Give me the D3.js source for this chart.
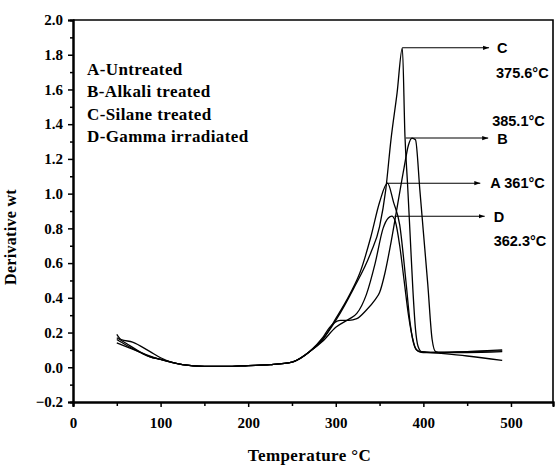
<!DOCTYPE html>
<html>
<head>
<meta charset="utf-8">
<script src="https://cdn.jsdelivr.net/npm/d3@7/dist/d3.min.js"></script>
<style>
  body { margin: 0; background: #fff; }
</style>
</head>
<body>
<svg id="chart"></svg>
<script>
// legend labels
const legendLabels = ['A-Untreated', 'B-Alkali treated', 'C-Silane treated', 'D-Gamma irradiated']

// curve data, temperature (C) and derivative wt
const tempA = [50, 60, 75, 88, 100, 125, 150, 175, 200, 225, 250, 270, 285, 300, 316, 328, 340, 350, 359, 366, 373, 380, 385, 390, 395, 400, 450, 490]
const valA  = [0.16, 0.13, 0.09, 0.06, 0.045, 0.015, 0.005, 0.005, 0.01, 0.015, 0.03, 0.09, 0.16, 0.28, 0.42, 0.55, 0.75, 0.95, 1.06, 0.95, 0.82, 0.5, 0.25, 0.12, 0.09, 0.085, 0.085, 0.09]

const tempB = [50, 55, 68, 88, 100, 125, 150, 175, 200, 225, 250, 270, 285, 293, 305, 315, 324, 335, 345, 350, 356, 362, 370, 378, 383, 387, 391, 396, 400, 405, 410, 414, 420, 450, 490]
const valB  = [0.19, 0.16, 0.145, 0.09, 0.055, 0.015, 0.005, 0.005, 0.01, 0.015, 0.03, 0.09, 0.17, 0.23, 0.27, 0.27, 0.28, 0.33, 0.39, 0.43, 0.54, 0.69, 0.92, 1.15, 1.28, 1.32, 1.31, 1.02, 0.78, 0.48, 0.16, 0.09, 0.085, 0.09, 0.1]

const tempC = [50, 60, 75, 88, 100, 125, 150, 175, 200, 225, 250, 270, 285, 300, 320, 340, 350, 357, 363, 370, 376, 379, 382, 385, 388, 391, 394, 398, 420, 450, 490]
const valC  = [0.14, 0.12, 0.09, 0.06, 0.045, 0.015, 0.005, 0.005, 0.01, 0.015, 0.03, 0.09, 0.16, 0.27, 0.45, 0.66, 0.81, 1.02, 1.31, 1.58, 1.84, 1.33, 1.05, 0.75, 0.45, 0.22, 0.12, 0.09, 0.08, 0.065, 0.04]

const tempD = [50, 60, 80, 100, 125, 150, 175, 200, 225, 250, 270, 285, 300, 316, 324, 335, 345, 354, 360, 364, 368, 373, 378, 383, 388, 392, 396, 420, 450, 490]
const valD  = [0.17, 0.14, 0.08, 0.045, 0.015, 0.005, 0.005, 0.01, 0.015, 0.03, 0.09, 0.15, 0.23, 0.28, 0.31, 0.42, 0.6, 0.8, 0.86, 0.87, 0.84, 0.7, 0.5, 0.3, 0.16, 0.1, 0.09, 0.085, 0.09, 0.095]

// peak arrows: start temp, value, end temp
const arrowNames  = ['C', 'B', 'A', 'D']
const arrowStart  = [376, 380, 358, 367]
const arrowValue  = [1.84, 1.32, 1.06, 0.87]
const arrowEnd    = [475, 474, 465, 470]
const peakLabels  = ['375.6°C', '385.1°C', '361°C', '362.3°C']

// ticks
const xTicks = [0, 100, 200, 300, 400, 500]
const yTicks = [-0.2, 0, 0.2, 0.4, 0.6, 0.8, 1, 1.2, 1.4, 1.6, 1.8, 2]

const W = 555, H = 465
const m = { top: 20, right: 2, bottom: 63, left: 73 }

const svg = d3.select('#chart').attr('width', W).attr('height', H)

const x = d3.scaleLinear().domain([0, 548]).range([m.left, W - m.right])
const y = d3.scaleLinear().domain([-0.2, 2.0]).range([H - m.bottom, m.top])

const serif = '"Liberation Serif", "Times New Roman", serif'
const sans = '"Liberation Sans", Arial, sans-serif'

// frame (top and right)
svg.append('path')
  .attr('d', `M${x(0)},${y(2)}H${x(548)}V${y(-0.2)}`)
  .attr('fill', 'none')
  .attr('stroke', '#000')
  .attr('stroke-width', 1.6)

// minor ticks
const xAxisMinor = d3.axisBottom(x).tickValues(d3.range(50, 548, 100)).tickSize(4).tickFormat('')
const yAxisMinor = d3.axisLeft(y).tickValues(d3.range(-0.1, 2.0, 0.2)).tickSize(3).tickFormat('')

svg.append('g').attr('transform', `translate(0,${y(-0.2)})`).call(xAxisMinor)
svg.append('g').attr('transform', `translate(${x(0)},0)`).call(yAxisMinor)

const xAxis = d3.axisBottom(x).tickValues(xTicks).tickSize(5).tickPadding(10).tickFormat(d3.format('d'))
const yAxis = d3.axisLeft(y).tickValues(yTicks).tickSize(5).tickPadding(5).tickFormat(d3.format('.1f'))

svg.append('g').attr('class', 'axis').attr('transform', `translate(0,${y(-0.2)})`).call(xAxis)
svg.append('g').attr('class', 'axis').attr('transform', `translate(${x(0)},0)`).call(yAxis)

svg.selectAll('.domain').attr('stroke-width', 2)
svg.selectAll('.tick line').attr('stroke-width', 1.5)
svg.selectAll('.axis')
  .attr('font-family', null)
  .attr('font-size', null)
svg.selectAll('.axis .tick text')
  .style('font-family', serif)
  .style('font-weight', 'bold')
  .style('font-size', '15px')
  .attr('fill', '#000')

// curves
const line = d3.line()
  .x(d => x(d[0]))
  .y(d => y(d[1]))
  .curve(d3.curveMonotoneX)

const series = [
  d3.zip(tempA, valA),
  d3.zip(tempB, valB),
  d3.zip(tempC, valC),
  d3.zip(tempD, valD)
]

svg.selectAll('.curve')
  .data(series)
  .enter().append('path')
  .attr('class', 'curve')
  .attr('d', line)
  .attr('fill', 'none')
  .attr('stroke', '#000')
  .attr('stroke-width', 1.3)

// arrow marker
svg.append('defs').append('marker')
  .attr('id', 'arr')
  .attr('viewBox', '0 0 10 10')
  .attr('refX', 10).attr('refY', 5)
  .attr('markerWidth', 6).attr('markerHeight', 6)
  .attr('orient', 'auto')
  .attr('markerUnits', 'userSpaceOnUse')
  .append('path')
  .attr('d', 'M0,1.5L10,5L0,8.5Z')
  .attr('fill', '#000')

arrowNames.forEach((n, i) => {
  svg.append('line')
    .attr('x1', x(arrowStart[i])).attr('x2', x(arrowEnd[i]))
    .attr('y1', y(arrowValue[i])).attr('y2', y(arrowValue[i]))
    .attr('stroke', '#000')
    .attr('stroke-width', 1.1)
    .attr('marker-end', 'url(#arr)')
})

const annot = svg.append('g')
  .style('font-family', sans)
  .style('font-weight', 'bold')
  .style('font-size', '14.5px')
  .attr('fill', '#000')

// C
annot.append('text').attr('x', x(arrowEnd[0]) + 8).attr('y', y(arrowValue[0]) + 5).text('C')
annot.append('text').attr('x', x(arrowEnd[0]) + 7).attr('y', y(arrowValue[0]) + 30).text(peakLabels[0])
// B
annot.append('text').attr('x', x(arrowEnd[1]) + 4).attr('y', y(arrowValue[1]) - 12).text(peakLabels[1])
annot.append('text').attr('x', x(arrowEnd[1]) + 9).attr('y', y(arrowValue[1]) + 6).text('B')
// A
annot.append('text').attr('x', x(arrowEnd[2]) + 10).attr('y', y(arrowValue[2]) + 5).text('A ' + peakLabels[2])
// D
annot.append('text').attr('x', x(arrowEnd[3]) + 9).attr('y', y(arrowValue[3]) + 6).text('D')
annot.append('text').attr('x', x(arrowEnd[3]) + 9).attr('y', y(arrowValue[3]) + 30).text(peakLabels[3])

// legend
svg.append('g')
  .selectAll('text')
  .data(legendLabels)
  .enter().append('text')
  .attr('x', 87)
  .attr('y', (d, i) => 75 + i * 22.3)
  .style('font-family', serif)
  .style('font-weight', 'bold')
  .style('font-size', '17px')
  .style('letter-spacing', '0.4px')
  .text(d => d)

// axis titles
svg.append('text')
  .attr('transform', `translate(16,237) rotate(-90)`)
  .attr('text-anchor', 'middle')
  .style('font-family', serif)
  .style('font-weight', 'bold')
  .style('font-size', '16px')
  .style('letter-spacing', '0.3px')
  .text('Derivative wt')

svg.append('text')
  .attr('x', x(270))
  .attr('y', 461)
  .attr('text-anchor', 'middle')
  .style('font-family', serif)
  .style('font-weight', 'bold')
  .style('font-size', '17px')
  .style('letter-spacing', '0.4px')
  .text('Temperature °C')
</script>
</body>
</html>
